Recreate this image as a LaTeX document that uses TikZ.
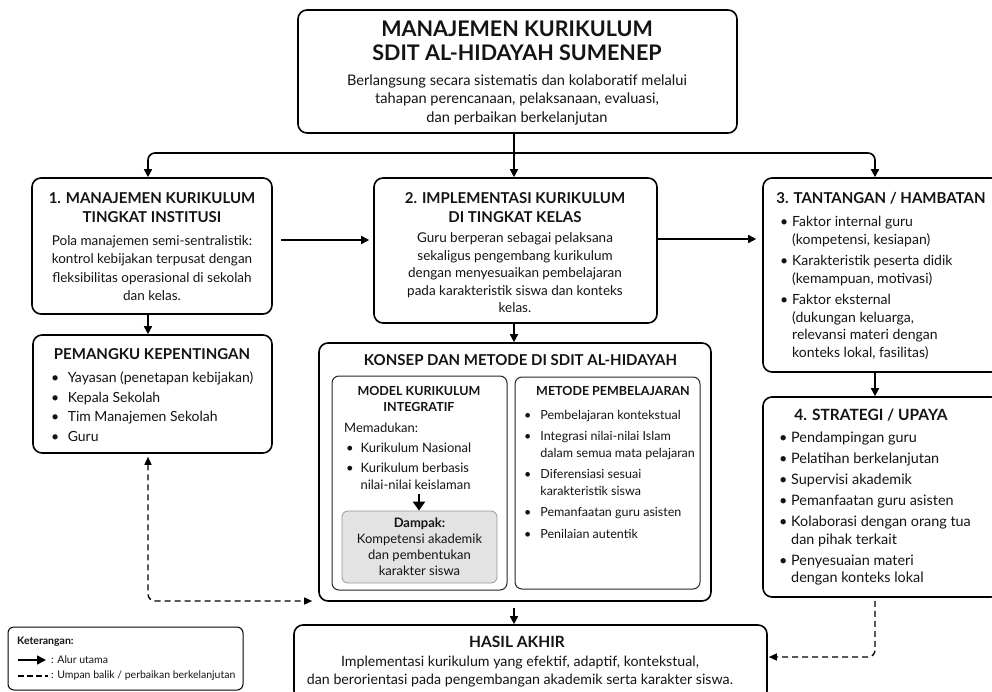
\documentclass[tikz,border=0pt]{standalone}
\usepackage{fontspec}
\setmainfont{Lato}
\usetikzlibrary{arrows.meta}
\newcommand\fsz[2]{\fontsize{#1}{#2}\selectfont}
\newcommand\bul[1][12pt]{\makebox[#1][l]{\textbullet}}
\newcommand\ind[1][12pt]{\hspace*{#1}}
\begin{document}
\begin{tikzpicture}[x=1pt,y=-1pt,
  box/.style={draw=black, line width=1.6pt, rounded corners=9pt, fill=white, inner sep=0pt},
  inbox/.style={draw=black!85, line width=1pt, rounded corners=7pt, fill=white, inner sep=0pt},
  gbox/.style={draw=black!40, line width=0.8pt, rounded corners=6pt, fill=black!11, inner sep=0pt},
  legbox/.style={draw=black, line width=1pt, rounded corners=6pt, fill=white, inner sep=0pt},
  arr/.style={line width=1.6pt, -{Triangle[length=8pt,width=8pt]}},
  bigarr/.style={line width=2.6pt, -{Triangle[length=9pt,width=12pt]}},
  darr/.style={line width=1.4pt, dash pattern=on 6pt off 4pt, -{Triangle[length=8pt,width=7pt]}},
  ddarr/.style={line width=1.4pt, dash pattern=on 6pt off 4pt, {Triangle[length=8pt,width=7pt]}-{Triangle[length=8pt,width=7pt]}},
  legdash/.style={line width=1.3pt, dash pattern=on 6pt off 3pt},
  txt/.style={inner sep=0pt, text=black!92},
]
\useasboundingbox (0,0) rectangle (992,692);
\fill[white] (0,0) rectangle (992,692);

% boxes
\node[box, minimum width=439pt, minimum height=123pt] (title) at (517.5,71.5) {};
\node[box, minimum width=240pt, minimum height=136pt] (b1) at (152,246) {};
\node[box, minimum width=283pt, minimum height=145pt] (b2) at (515.5,250.5) {};
\node[box, minimum width=237pt, minimum height=194pt] (b3) at (881.5,275) {};
\node[box, minimum width=237pt, minimum height=200pt] (b4) at (881.5,497) {};
\node[box, minimum width=239pt, minimum height=118pt] (pem) at (152.5,394) {};
\node[box, minimum width=392pt, minimum height=258pt] (konsep) at (515,472) {};
\node[inbox, minimum width=175pt, minimum height=214pt] (model) at (419.5,483) {};
\node[inbox, minimum width=185pt, minimum height=212pt] (metode) at (607.5,483) {};
\node[gbox, minimum width=155pt, minimum height=72pt] (dampak) at (419.5,547) {};
\node[box, minimum width=473pt, minimum height=75pt] (hasil) at (530.5,662.5) {};
\node[legbox, minimum width=235pt, minimum height=63pt] (legend) at (125.5,658.5) {};

% coordinates for connectors
\coordinate (cx) at (514,153);
\coordinate (lx) at (148,153);
\coordinate (rx) at (875,153);
\coordinate (ya) at (0,240);
\coordinate (yb) at (0,239);
\coordinate (mx) at (419,0);
\coordinate (dc) at (148,601);
\coordinate (dh) at (875,657);
\coordinate (la1) at (18,660);
\coordinate (la2) at (46,660);
\coordinate (lb1) at (18,676);
\coordinate (lb2) at (48,676);

% texts
\node[txt, font=\fsz{21.5}{23.5}\bfseries, align=center] (ttl) at (517,41) {MANAJEMEN KURIKULUM\\SDIT AL-HIDAYAH SUMENEP};
\node[txt, font=\fsz{14.6}{18.5}, align=center] (tsub) at (517,99.5) {Berlangsung secara sistematis dan kolaboratif melalui\\tahapan perencanaan, pelaksanaan, evaluasi,\\dan perbaikan berkelanjutan};

\node[txt, font=\fsz{15}{19}\bfseries, align=center] (b1h) at (152,207.5) {1. MANAJEMEN KURIKULUM\\TINGKAT INSTITUSI};
\node[txt, font=\fsz{13.5}{18.3}, align=center] (b1t) at (152,268) {Pola manajemen semi-sentralistik:\\kontrol kebijakan terpusat dengan\\fleksibilitas operasional di sekolah\\dan kelas.};

\node[txt, font=\fsz{15}{19}\bfseries, align=center] (b2h) at (515,207.5) {2. IMPLEMENTASI KURIKULUM\\DI TINGKAT KELAS};
\node[txt, font=\fsz{13.5}{17.5}, align=center] (b2t) at (515,273) {Guru berperan sebagai pelaksana\\sekaligus pengembang kurikulum\\dengan menyesuaikan pembelajaran\\pada karakteristik siswa dan konteks\\kelas.};

\node[txt, font=\fsz{15}{19}\bfseries] (b3h) at (881,198) {3. TANTANGAN / HAMBATAN};
\node[txt, font=\fsz{14}{17.5}, align=left, anchor=west] (b3t) at (780,288) {\bul Faktor internal guru\\ \ind (kompetensi, kesiapan)\\[4pt] \bul Karakteristik peserta didik\\ \ind (kemampuan, motivasi)\\[4pt] \bul Faktor eksternal\\ \ind (dukungan keluarga,\\ \ind relevansi materi dengan\\ \ind konteks lokal, fasilitas)};

\node[txt, font=\fsz{15.5}{19}\bfseries] (b4h) at (871,415) {4. STRATEGI / UPAYA};
\node[txt, font=\fsz{14.4}{17.5}, align=left, anchor=west] (b4t) at (779,509) {\bul Pendampingan guru\\[3.5pt] \bul Pelatihan berkelanjutan\\[3.5pt] \bul Supervisi akademik\\[3.5pt] \bul Pemanfaatan guru asisten\\[3.5pt] \bul Kolaborasi dengan orang tua\\ \ind dan pihak terkait\\[3.5pt] \bul Penyesuaian materi\\ \ind dengan konteks lokal};

\node[txt, font=\fsz{15}{19}\bfseries] (pemh) at (152,354) {PEMANGKU KEPENTINGAN};
\node[txt, font=\fsz{14}{19.7}, align=left, anchor=west] (pemt) at (51,406.5) {\bul[13pt] Yayasan (penetapan kebijakan)\\ \bul[13pt] Kepala Sekolah\\ \bul[13pt] Tim Manajemen Sekolah\\ \bul[13pt] Guru};

\node[txt, font=\fsz{15}{18}\bfseries] (konh) at (520.5,360) {KONSEP DAN METODE DI SDIT AL-HIDAYAH};

\node[txt, font=\fsz{12.5}{16}\bfseries, align=center] (modh) at (419,399) {MODEL KURIKULUM\\INTEGRATIF};
\node[txt, font=\fsz{13}{17}, anchor=west] (modm) at (344,428) {Memadukan:};
\node[txt, font=\fsz{13}{17}, align=left, anchor=west] (modt) at (346,466.5) {\bul[11pt] Kurikulum Nasional\\[3pt] \bul[11pt] Kurikulum berbasis\\ \ind[11pt] nilai-nilai keislaman};
\node[txt, font=\fsz{13}{16}, align=center] (damt) at (419.5,547) {\textbf{Dampak:}\\Kompetensi akademik\\dan pembentukan\\karakter siswa};

\node[txt, font=\fsz{12.5}{16}\bfseries] (meth) at (613,391) {METODE PEMBELAJARAN};
\node[txt, font=\fsz{12.5}{16.5}, align=left, anchor=west] (mett) at (524,474) {\bul[13pt] Pembelajaran kontekstual\\[5pt] \bul[13pt] Integrasi nilai-nilai Islam\\ \ind[13pt] dalam semua mata pelajaran\\[5pt] \bul[13pt] Diferensiasi sesuai\\ \ind[13pt] karakteristik siswa\\[5pt] \bul[13pt] Pemanfaatan guru asisten\\[5pt] \bul[13pt] Penilaian autentik};

\node[txt, font=\fsz{15.5}{19}\bfseries] (hash) at (517,642) {HASIL AKHIR};
\node[txt, font=\fsz{14.2}{18}, align=center] (hast) at (520,672) {Implementasi kurikulum yang efektif, adaptif, kontekstual,\\dan berorientasi pada pengembangan akademik serta karakter siswa.};

\node[txt, font=\fsz{10.5}{12}\bfseries, anchor=west] (legh) at (17,642) {Keterangan:};
\node[txt, font=\fsz{10.5}{12}, anchor=west] (leg1) at (51,660) {: Alur utama};
\node[txt, font=\fsz{10.5}{12}, anchor=west] (leg2) at (51,676) {: Umpan balik / perbaikan berkelanjutan};

% connectors
\draw[arr] (title.south -| cx) -- (b2.north -| cx);
\draw[arr, rounded corners=7pt] (cx) -| (b1.north -| lx);
\draw[arr, rounded corners=7pt] (cx) -| (b3.north -| rx);
\draw[arr, shorten <=8pt, shorten >=4pt] (b1.east |- ya) -- (b2.west |- ya);
\draw[arr, shorten >=6pt] (b2.east |- yb) -- (b3.west |- yb);
\draw[arr] (b1.south -| lx) -- (pem.north -| lx);
\draw[arr] (b2.south -| cx) -- (konsep.north -| cx);
\draw[arr] (b3.south -| rx) -- (b4.north -| rx);
\draw[arr, shorten <=6pt] (konsep.south -| cx) -- (hasil.north -| cx);
\draw[bigarr, shorten <=4pt] (modt.south -| mx) -- (dampak.north -| mx);
\draw[ddarr, rounded corners=7pt, shorten <=3pt, shorten >=6pt] (pem.south -| lx) |- (konsep.west |- dc);
\draw[darr, rounded corners=7pt, shorten <=3pt, shorten >=1pt] (b4.south -| rx) |- (hasil.east |- dh);
\draw[arr, line width=1.5pt, -{Triangle[length=9pt,width=9pt]}] (la1) -- (la2);
\draw[legdash] (lb1) -- (lb2);
\end{tikzpicture}
\end{document}
